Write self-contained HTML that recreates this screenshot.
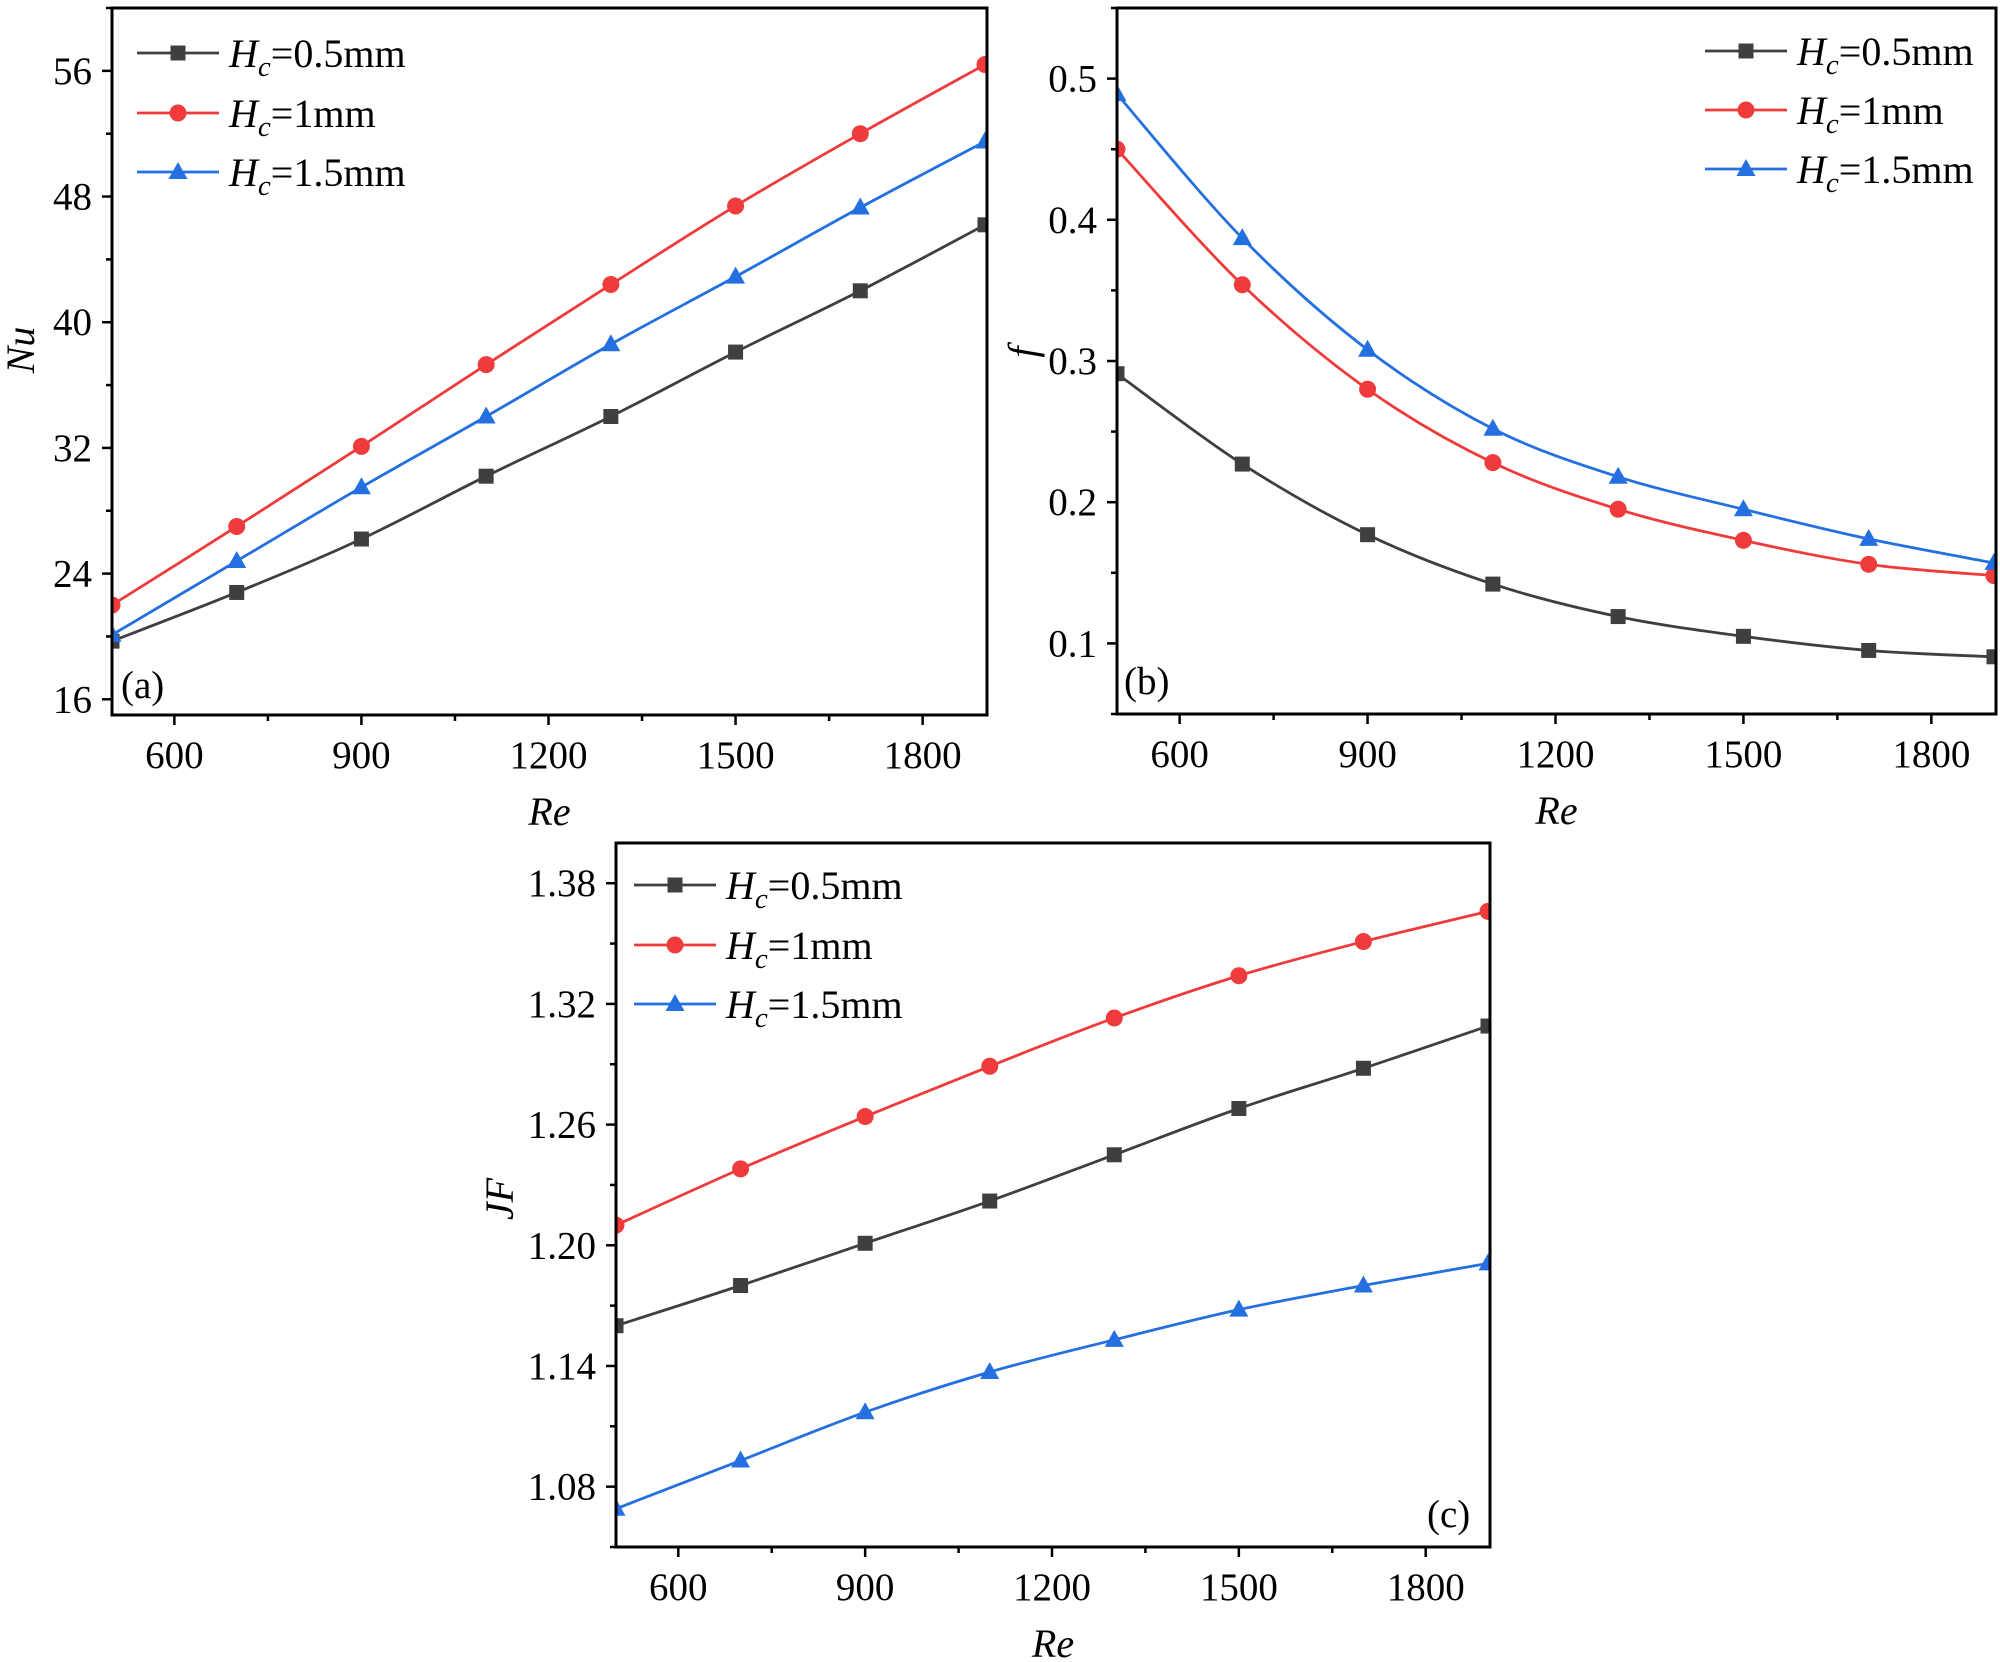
<!DOCTYPE html>
<html><head><meta charset="utf-8"><style>
html,body{margin:0;padding:0;background:#fff;}
svg{display:block;font-family:"Liberation Serif",serif;}
</style></head><body>
<svg id="chart" width="2000" height="1662" viewBox="0 0 2000 1662" xmlns="http://www.w3.org/2000/svg"></svg>
<script>
const reValues=[500,700,900,1100,1300,1500,1700,1900];
const xTicks=[600,900,1200,1500,1800];
const seriesNames=["0.5mm","1mm","1.5mm"];
const nu05=[19.7,22.8,26.2,30.2,34.0,38.1,42.0,46.2];
const nu10=[22.0,27.0,32.1,37.3,42.4,47.4,52.0,56.4];
const nu15=[20.1,24.8,29.5,34.0,38.6,42.9,47.3,51.5];
const f05=[0.291,0.227,0.177,0.142,0.119,0.105,0.095,0.0905];
const f10=[0.450,0.354,0.280,0.228,0.195,0.173,0.156,0.148];
const f15=[0.489,0.387,0.308,0.252,0.218,0.195,0.174,0.157];
const jf05=[1.160,1.180,1.201,1.222,1.245,1.268,1.288,1.309];
const jf10=[1.210,1.238,1.264,1.289,1.313,1.334,1.351,1.366];
const jf15=[1.069,1.093,1.117,1.137,1.153,1.168,1.180,1.191];
const nuTicks=[16,24,32,40,48,56];
const fTicks=[0.1,0.2,0.3,0.4,0.5];
const jfTicks=[1.08,1.14,1.20,1.26,1.32,1.38];

const NS="http://www.w3.org/2000/svg";
const svg=document.getElementById('chart');
const colors=["#3f3f3f","#ef3b3b","#2470e0"];
function mk(tag,attrs,parent,text){const e=document.createElementNS(NS,tag);for(const k in attrs)e.setAttribute(k,attrs[k]);if(text!==undefined)e.textContent=text;(parent||svg).appendChild(e);return e;}

function smoothPath(pts){
  let d="M"+pts[0][0]+","+pts[0][1];
  for(let i=0;i<pts.length-1;i++){
    const p0=pts[i-1]||pts[i],p1=pts[i],p2=pts[i+1],p3=pts[i+2]||p2;
    const c1=[p1[0]+(p2[0]-p0[0])/6,p1[1]+(p2[1]-p0[1])/6];
    const c2=[p2[0]-(p3[0]-p1[0])/6,p2[1]-(p3[1]-p1[1])/6];
    d+=" C"+c1[0]+","+c1[1]+" "+c2[0]+","+c2[1]+" "+p2[0]+","+p2[1];
  }
  return d;
}
function marker(g,k,x,y,col){
  let m;
  if(k===0){m=mk('rect',{x:x-7.5,y:y-7.5,width:15,height:15,fill:col},g);}
  else if(k===1){m=mk('circle',{cx:x,cy:y,r:8.5,fill:col},g);}
  else {m=mk('polygon',{points:(x)+","+(y-10)+" "+(x+9.5)+","+(y+7)+" "+(x-9.5)+","+(y+7),fill:col},g);}
  return m;
}
const defs=mk('defs',{});
let clipId=0;

function panel(cfg){
  const g=mk('g',{});
  
  
  const X=v=>cfg.x0+(v-500)/(1900-500)*(cfg.xe-cfg.x0);
  const Y=v=>cfg.y1-(v-cfg.ymin)/(cfg.ymax-cfg.ymin)*(cfg.y1-cfg.y0);
  const cid='clip'+(clipId++);
  const cp=mk('clipPath',{id:cid},defs);
  mk('rect',{x:cfg.x0,y:cfg.y0,width:cfg.x1-cfg.x0,height:cfg.y1-cfg.y0},cp);
  for(let v=600;v<=1800;v+=150){
    const major=(v%300===0);
    const t=mk('line',{x1:X(v),x2:X(v),y1:cfg.y1,y2:cfg.y1+(major?10:6),stroke:"#000","stroke-width":2.5},g);
    
    
  }
  xTicks.forEach(v=>{
    const t=mk('text',{x:X(v),y:cfg.y1+53,'text-anchor':'middle','font-size':39},g,String(v));
    
    
  });
  const step=cfg.ticks[1]-cfg.ticks[0];
  for(let v=cfg.ticks[0]-step/2;v<=cfg.ymax+1e-9;v+=step/2){
    if(v<cfg.ymin-1e-9)continue;
    const major=Math.abs(((v-cfg.ticks[0])/step)-Math.round((v-cfg.ticks[0])/step))<1e-6;
    const t=mk('line',{x1:cfg.x0,x2:cfg.x0-(major?10:6),y1:Y(v),y2:Y(v),stroke:"#000","stroke-width":2.5},g);
    
    
  }
  cfg.ticks.forEach(v=>{
    const t=mk('text',{x:cfg.x0-20,y:Y(v)+13,'text-anchor':'end','font-size':39},g,v.toFixed(cfg.dec));
    
    
  });
  const sg=mk('g',{'clip-path':'url(#'+cid+')'},g);
  cfg.series.forEach((s,k)=>{
    const pts=reValues.map((r,i)=>[X(r),Y(s[i])]);
    const p=mk('path',{d:smoothPath(pts),fill:"none",stroke:colors[k],"stroke-width":2.8},sg);
    
    
    pts.forEach(q=>{
      const m=marker(sg,k,q[0],q[1],colors[k]);
      
      
    });
  });
  const fr=mk('rect',{x:cfg.x0,y:cfg.y0,width:cfg.x1-cfg.x0,height:cfg.y1-cfg.y0,fill:"none",stroke:"#000","stroke-width":3},g);
  
  
  const xt=mk('text',{x:(cfg.x0+cfg.x1)/2,y:cfg.y1+110,'text-anchor':'middle','font-size':40,'font-style':'italic'},g,'Re');
  
  
  const yt=mk('text',{x:0,y:0,transform:"translate("+cfg.ytx+","+cfg.yty+") rotate(-90)",'text-anchor':'middle','font-size':40,'font-style':'italic'},g,cfg.ytitle);
  
  
  const pl=mk('text',{x:cfg.plx,y:cfg.ply,'font-size':39},g,cfg.label);
  
  
  seriesNames.forEach((n,k)=>{
    const ly=cfg.legY[k];
    const lg=mk('g',{},g);
    
    
    mk('line',{x1:cfg.legX,x2:cfg.legX+82,y1:ly,y2:ly,stroke:colors[k],"stroke-width":2.8},lg);
    marker(lg,k,cfg.legX+41,ly,colors[k]);
    const t=mk('text',{x:cfg.legX+92,y:ly+14,'font-size':40},lg);
    mk('tspan',{'font-style':'italic'},t,'H');
    mk('tspan',{'font-style':'italic','font-size':29,dy:9},t,'c');
    mk('tspan',{dy:-9},t,'='+n);
  });
}

panel({name:'panel-a-nu',x0:112,x1:987,xe:985,y0:8,y1:715,ymin:15,ymax:60,ticks:nuTicks,dec:0,series:[nu05,nu10,nu15],
  ytitle:'Nu',ytx:34,yty:350,label:'(a)',plx:121,ply:698,legX:137,legY:[53,113,172]});
panel({name:'panel-b-f',x0:1117,x1:1996,xe:1994,y0:8,y1:714,ymin:0.05,ymax:0.55,ticks:fTicks,dec:1,series:[f05,f10,f15],
  ytitle:'f',ytx:1036,yty:352,label:'(b)',plx:1124,ply:694,legX:1705,legY:[51,110,169]});
panel({name:'panel-c-jf',x0:616,x1:1490,xe:1488,y0:843,y1:1547,ymin:1.05,ymax:1.40,ticks:jfTicks,dec:2,series:[jf05,jf10,jf15],
  ytitle:'JF',ytx:513,yty:1199,label:'(c)',plx:1427,ply:1527,legX:634,legY:[885,945,1004]});
</script>
</body></html>
